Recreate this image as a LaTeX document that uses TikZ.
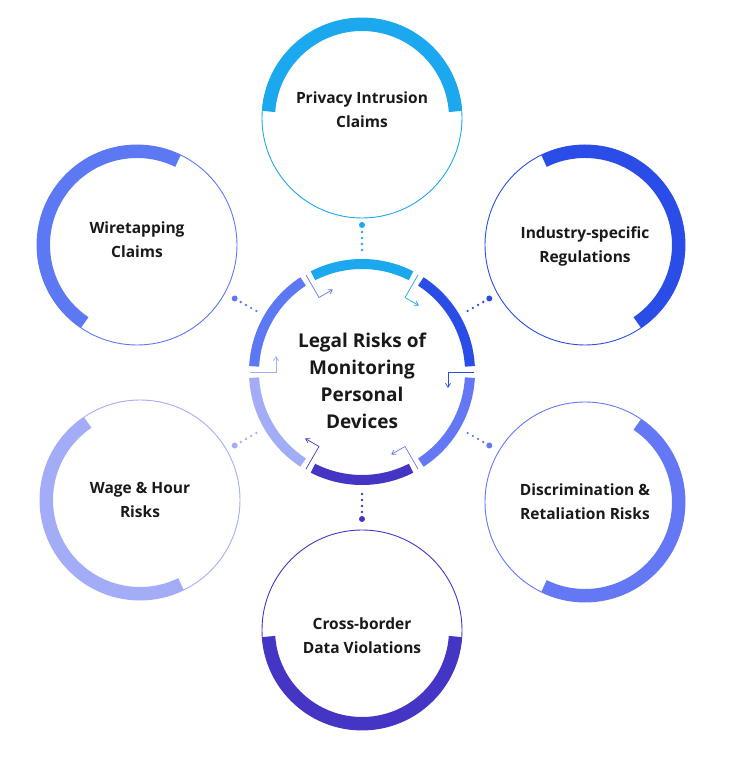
\documentclass[tikz,border=0pt]{standalone}
\usepackage{fontspec}
\setmainfont{Open Sans}
\usetikzlibrary{arrows.meta,calc}
\definecolor{cA}{HTML}{1BA8EE}
\definecolor{cB}{HTML}{2A4DE8}
\definecolor{cC}{HTML}{6478F6}
\definecolor{cD}{HTML}{4535C5}
\definecolor{cE}{HTML}{A3ADF7}
\definecolor{cF}{HTML}{5C78F2}
\tikzset{
  lab/.style={align=center,font=\fontsize{15.5}{24}\selectfont\bfseries,text=black!90},
  thin ring/.style={line width=0.9pt},
  thick arc/.style={line width=13pt},
  seg/.style={line width=10pt},
}
\begin{document}
\begin{tikzpicture}[x=1pt,y=1pt]
\useasboundingbox (0,0) rectangle (732,772);
\coordinate (C) at (362,400);
\foreach \a/\c in {90/cA,30/cB,-30/cC,-90/cD,-150/cE,150/cF}{
  \draw[seg,\c] ($(C)+(\a+27:108)$) arc[start angle=\a+27,end angle=\a-27,radius=108];
}
\foreach \g/\c in {120/cF,60/cA,0/cB,-60/cC,-120/cD,180/cE}{
  \draw[\c,line width=0.7pt,-{Straight Barb[length=4pt,width=5pt]}]
    ($(C)+(\g:112)$) -- ($(C)+(\g:86)$) -- ++(\g-90:16);
}
\node[align=center,font=\fontsize{19}{27}\selectfont\bfseries,text=black!90] (ctr) at ($(C)+(0,-9)$) {Legal Risks of\\Monitoring\\Personal\\Devices};
\foreach \n/\x/\y/\a/\c/\dy/\t in {
  top/362/654/90/cA/8/{Privacy Intrusion\\Claims},
  ur/585/527/30/cB/-1/{Industry-specific\\Regulations},
  lr/585/270/-30/cC/0/{Discrimination \&\\Retaliation Risks},
  bot/362/142/-90/cD/-6/{Cross-border\\Data Violations},
  ll/140/272/-150/cE/0/{Wage \& Hour\\Risks},
  ul/137/527/150/cF/5/{Wiretapping\\Claims}}{
  \coordinate (\n c) at (\x,\y);
  \draw[thin ring,\c] (\n c) circle[radius=100];
  \draw[thick arc,\c] ($(\n c)+(\a+86:93.5)$) arc[start angle=\a+86,end angle=\a-86,radius=93.5];
  \node[lab] (\n) at ($(\n c)+(0,\dy)$) {\t};
  \foreach \r in {122,128,134,140}{
    \fill[\c] ($(C)+(\a:\r)$) circle[radius=1.3];
  }
  \fill[\c] ($(C)+(\a:147)$) circle[radius=3];
}
\end{tikzpicture}
\end{document}
